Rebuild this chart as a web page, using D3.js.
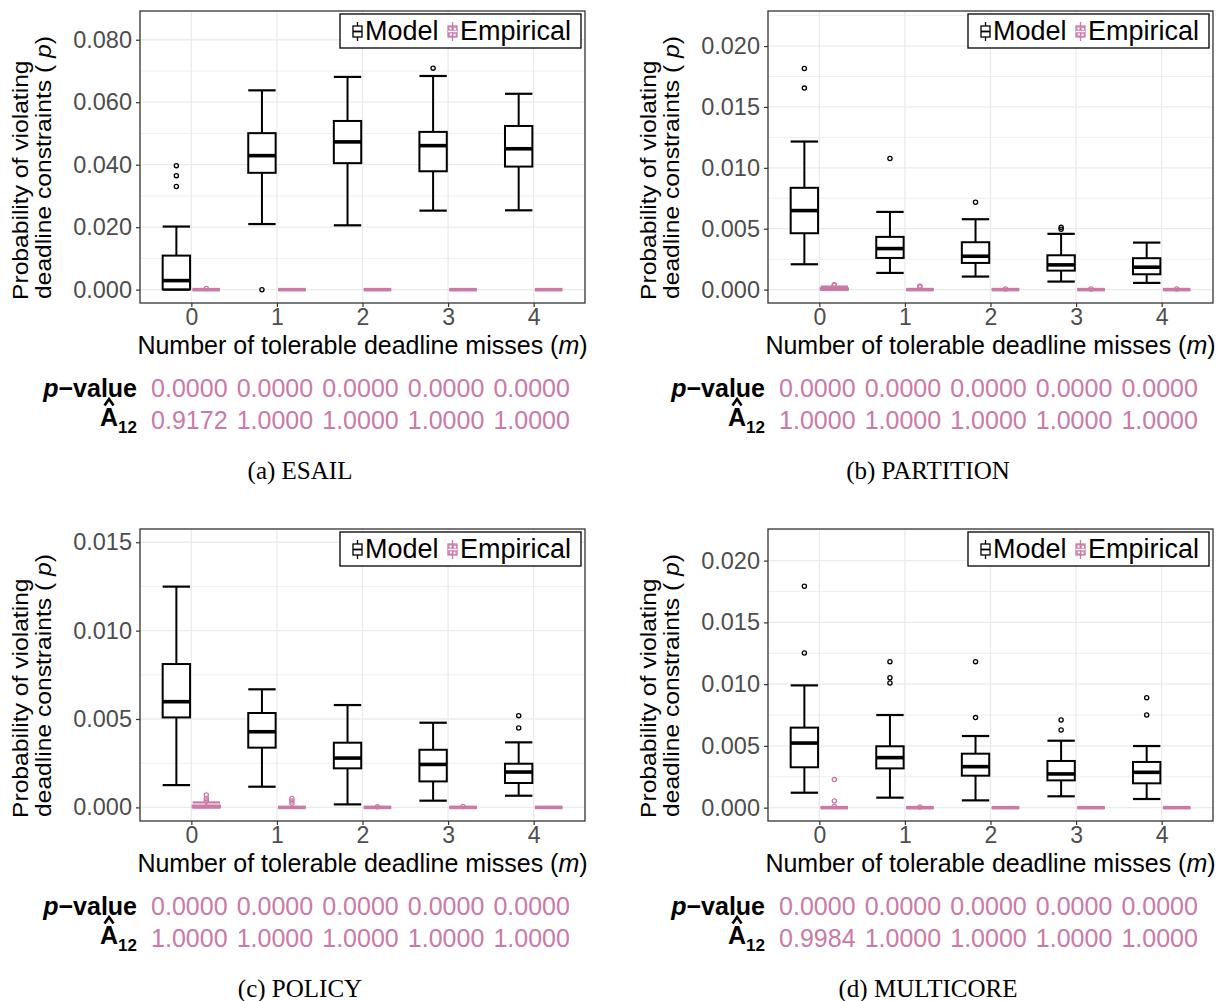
<!DOCTYPE html>
<html lang="en">
<head>
<meta charset="utf-8">
<script src="https://d3js.org/d3.v7.min.js"></script>
<style>
  body { margin: 0; background: #fff; }
</style>
</head>
<body>
<script>
// Categories on the x axis (number of tolerable deadline misses).
var categories = [0, 1, 2, 3, 4];

// Box summaries per category: [lower whisker, Q1, median, Q3, upper whisker]
var esailModel = [[0.0, 0.0001, 0.0029, 0.0109, 0.0202],
                  [0.0210, 0.0374, 0.0429, 0.0501, 0.0638],
                  [0.0206, 0.0405, 0.0473, 0.0540, 0.0681],
                  [0.0253, 0.0379, 0.0461, 0.0505, 0.0684],
                  [0.0254, 0.0394, 0.0451, 0.0524, 0.0627]];
var esailModelOut = [[0.0397, 0.0365, 0.0330], [0.0], [], [0.0709], []];
var esailEmp = [[0, 0, 0, 0, 0], [0, 0, 0, 0, 0], [0, 0, 0, 0, 0], [0, 0, 0, 0, 0], [0, 0, 0, 0, 0]];
var esailEmpOut = [[0.0004], [], [], [], []];
var esailTicks = [0, 0.02, 0.04, 0.06, 0.08];
var esailP = ["0.0000", "0.0000", "0.0000", "0.0000", "0.0000"];
var esailA12 = ["0.9172", "1.0000", "1.0000", "1.0000", "1.0000"];

var partitionModel = [[0.00208, 0.00463, 0.00649, 0.00836, 0.01216],
                      [0.00137, 0.00260, 0.00337, 0.00433, 0.00638],
                      [0.00107, 0.00219, 0.00274, 0.00389, 0.00578],
                      [0.00066, 0.00156, 0.00203, 0.00282, 0.00458],
                      [0.00055, 0.00126, 0.00184, 0.00258, 0.00386]];
var partitionModelOut = [[0.01816, 0.01655], [0.01077], [0.00718], [0.00512, 0.00496], []];
var partitionEmp = [[0, 0, 0.00005, 0.0001, 0.00025], [0, 0, 0, 0, 0], [0, 0, 0, 0, 0], [0, 0, 0, 0, 0], [0, 0, 0, 0, 0]];
var partitionEmpOut = [[0.0004, 0.00035], [0.0003, 0.0002], [0.00005], [0.00005], [0.00005]];
var partitionTicks = [0, 0.005, 0.010, 0.015, 0.020];
var partitionP = ["0.0000", "0.0000", "0.0000", "0.0000", "0.0000"];
var partitionA12 = ["1.0000", "1.0000", "1.0000", "1.0000", "1.0000"];

var policyModel = [[0.00126, 0.00509, 0.00598, 0.00811, 0.01249],
                   [0.00117, 0.00338, 0.00428, 0.00534, 0.00668],
                   [0.00017, 0.00221, 0.00279, 0.00366, 0.00579],
                   [0.00038, 0.00147, 0.00243, 0.00326, 0.00479],
                   [0.00066, 0.00138, 0.00200, 0.00247, 0.00368]];
var policyModelOut = [[], [], [], [], [0.00519, 0.00449]];
var policyEmp = [[0, 0, 0.00005, 0.0001, 0.00028], [0, 0, 0, 0, 0], [0, 0, 0, 0, 0], [0, 0, 0, 0, 0], [0, 0, 0, 0, 0]];
var policyEmpOut = [[0.0007, 0.00051, 0.00038], [0.00051, 0.00036, 0.00023], [0.00003], [0.00005], []];
var policyTicks = [0, 0.005, 0.010, 0.015];
var policyP = ["0.0000", "0.0000", "0.0000", "0.0000", "0.0000"];
var policyA12 = ["1.0000", "1.0000", "1.0000", "1.0000", "1.0000"];

var multicoreModel = [[0.00121, 0.00327, 0.00523, 0.00648, 0.0099],
                      [0.00081, 0.00318, 0.00405, 0.00497, 0.0075],
                      [0.00059, 0.00259, 0.00332, 0.00437, 0.0058],
                      [0.00092, 0.00221, 0.00273, 0.00378, 0.00542],
                      [0.00070, 0.00197, 0.00286, 0.00370, 0.00499]];
var multicoreModelOut = [[0.01792, 0.01252], [0.01182, 0.01052, 0.01009], [0.01182, 0.00729], [0.0071, 0.00629], [0.0089, 0.0075]];
var multicoreEmp = [[0, 0, 0, 0, 0], [0, 0, 0, 0, 0], [0, 0, 0, 0, 0], [0, 0, 0, 0, 0], [0, 0, 0, 0, 0]];
var multicoreEmpOut = [[0.00227, 0.00054, 0.0001], [0.00005], [], [], []];
var multicoreTicks = [0, 0.005, 0.010, 0.015, 0.020];
var multicoreP = ["0.0000", "0.0000", "0.0000", "0.0000", "0.0000"];
var multicoreA12 = ["0.9984", "1.0000", "1.0000", "1.0000", "1.0000"];

var pink = "#CC79A7";
var sans = "'Liberation Sans', Arial, sans-serif";
var serif = "'Liberation Serif', 'Times New Roman', serif";

// Panels: offsets and y domains.
var panels = [
  {dx: 0,   dy: 0,   caption: "(a) ESAIL",     yDom: [-0.00427, 0.0892],  model: esailModel, modelOut: esailModelOut, emp: esailEmp, empOut: esailEmpOut, ticks: esailTicks, p: esailP, a12: esailA12},
  {dx: 628, dy: 0,   caption: "(b) PARTITION", yDom: [-0.0011, 0.02288],  model: partitionModel, modelOut: partitionModelOut, emp: partitionEmp, empOut: partitionEmpOut, ticks: partitionTicks, p: partitionP, a12: partitionA12},
  {dx: 0,   dy: 518, caption: "(c) POLICY",    yDom: [-0.00077, 0.01575], model: policyModel, modelOut: policyModelOut, emp: policyEmp, empOut: policyEmpOut, ticks: policyTicks, p: policyP, a12: policyA12},
  {dx: 628, dy: 518, caption: "(d) MULTICORE", yDom: [-0.00108, 0.02256], model: multicoreModel, modelOut: multicoreModelOut, emp: multicoreEmp, empOut: multicoreEmpOut, ticks: multicoreTicks, p: multicoreP, a12: multicoreA12}
];

var svg = d3.select("body").append("svg")
  .attr("width", 1220).attr("height", 1001)
  .style("background", "#fff")
  .style("font-family", sans);

// plot area inside one panel
var px0 = 140, px1 = 585, py0 = 11, py1 = 303;

panels.forEach(function(pn) {
  var g = svg.append("g").attr("transform", "translate(" + pn.dx + "," + pn.dy + ")");

  var x = d3.scaleLinear().domain([-0.6, 4.6]).range([px0, px1]);
  var y = d3.scaleLinear().domain(pn.yDom).range([py1, py0]);
  var step = pn.ticks[1] - pn.ticks[0];

  // minor grid lines (half steps)
  var minor = [];
  for (var v = Math.ceil(pn.yDom[0] / (step / 2)) * step / 2; v <= pn.yDom[1]; v += step / 2) {
    var isMajor = Math.abs(v / step - Math.round(v / step)) < 1e-6;
    if (!isMajor) minor.push(v);
  }
  g.selectAll(".minor").data(minor).enter().append("line")
    .attr("x1", px0).attr("x2", px1)
    .attr("y1", function(d) { return y(d); }).attr("y2", function(d) { return y(d); })
    .attr("stroke", "#EBEBEB").attr("stroke-width", 0.8);
  g.selectAll(".hmajor").data(pn.ticks).enter().append("line")
    .attr("x1", px0).attr("x2", px1)
    .attr("y1", function(d) { return y(d); }).attr("y2", function(d) { return y(d); })
    .attr("stroke", "#EBEBEB").attr("stroke-width", 1.3);
  g.selectAll(".vmajor").data(categories).enter().append("line")
    .attr("y1", py0).attr("y2", py1)
    .attr("x1", function(d) { return x(d); }).attr("x2", function(d) { return x(d); })
    .attr("stroke", "#EBEBEB").attr("stroke-width", 1.3);

  // boxplots
  var off = 0.175, bw = 0.32;
  function drawBoxes(stats, outs, sign, color) {
    stats.forEach(function(s, i) {
      var cx = x(categories[i] + sign * off);
      var l = x(categories[i] + sign * off - bw / 2), r = x(categories[i] + sign * off + bw / 2);
      // whiskers
      g.append("line").attr("x1", cx).attr("x2", cx).attr("y1", y(s[0])).attr("y2", y(s[1]))
        .attr("stroke", color).attr("stroke-width", 2);
      g.append("line").attr("x1", cx).attr("x2", cx).attr("y1", y(s[3])).attr("y2", y(s[4]))
        .attr("stroke", color).attr("stroke-width", 2);
      g.append("line").attr("x1", l).attr("x2", r).attr("y1", y(s[0])).attr("y2", y(s[0]))
        .attr("stroke", color).attr("stroke-width", 2.2);
      g.append("line").attr("x1", l).attr("x2", r).attr("y1", y(s[4])).attr("y2", y(s[4]))
        .attr("stroke", color).attr("stroke-width", 2.2);
      // box
      g.append("rect").attr("x", l).attr("width", r - l)
        .attr("y", y(s[3])).attr("height", Math.max(0, y(s[1]) - y(s[3])))
        .attr("fill", "#fff").attr("stroke", color).attr("stroke-width", 2);
      // median
      g.append("line").attr("x1", l).attr("x2", r).attr("y1", y(s[2])).attr("y2", y(s[2]))
        .attr("stroke", color).attr("stroke-width", 3.6);
      // outliers
      g.selectAll(null).data(outs[i]).enter().append("circle")
        .attr("cx", cx).attr("cy", function(d) { return y(d); }).attr("r", 2.1)
        .attr("fill", "none").attr("stroke", color).attr("stroke-width", 1.3);
    });
  }
  drawBoxes(pn.model, pn.modelOut, -1, "#000");
  drawBoxes(pn.emp, pn.empOut, 1, pink);

  // panel border
  g.append("rect").attr("x", px0).attr("y", py0).attr("width", px1 - px0).attr("height", py1 - py0)
    .attr("fill", "none").attr("stroke", "#333").attr("stroke-width", 1.3);

  // y axis
  var yAxis = g.append("g").attr("transform", "translate(" + px0 + ",0)")
    .call(d3.axisLeft(y).tickValues(pn.ticks).tickFormat(d3.format(".3f")).tickSize(4).tickPadding(4));
  yAxis.select(".domain").remove();
  yAxis.selectAll("line").attr("stroke", "#333").attr("stroke-width", 1.2);
  yAxis.selectAll("text").attr("fill", "#4D4D4D").style("font-size", "23.5px")
    .style("font-family", sans);

  // x axis
  var xAxis = g.append("g").attr("transform", "translate(0," + py1 + ")")
    .call(d3.axisBottom(x).tickValues(categories).tickFormat(d3.format("d")).tickSize(4).tickPadding(2));
  xAxis.select(".domain").remove();
  xAxis.selectAll("line").attr("stroke", "#333").attr("stroke-width", 1.2);
  xAxis.selectAll("text").attr("fill", "#4D4D4D").style("font-size", "23px")
    .style("font-family", sans);

  // axis titles
  var xt = g.append("text").attr("x", (px0 + px1) / 2).attr("y", 354)
    .attr("text-anchor", "middle").style("font-size", "25px").attr("fill", "#000");
  xt.append("tspan").text("Number of tolerable deadline misses (");
  xt.append("tspan").style("font-style", "italic").text("m");
  xt.append("tspan").text(")");

  // y title: slightly stretched along its length, as in the source figure
  g.append("text").attr("transform", "translate(28,300) rotate(-90) scale(1.12,1)")
    .style("font-size", "22px").attr("fill", "#000").text("Probability of violating");
  var yt = g.append("text").attr("transform", "translate(51,299) rotate(-90) scale(1.12,1)")
    .style("font-size", "22px").attr("fill", "#000");
  yt.append("tspan").text("deadline constraints ( ");
  yt.append("tspan").style("font-style", "italic").text("p");
  yt.append("tspan").text(")");

  // legend
  var lg = g.append("g");
  lg.append("rect").attr("x", 340).attr("y", 14).attr("width", 241).attr("height", 34)
    .attr("fill", "#fff").attr("stroke", "#000").attr("stroke-width", 1.3);
  // model key
  lg.append("line").attr("x1", 357.5).attr("x2", 357.5).attr("y1", 22).attr("y2", 41).attr("stroke", "#000").attr("stroke-width", 1.3);
  lg.append("rect").attr("x", 353).attr("y", 26).attr("width", 9).attr("height", 11)
    .attr("fill", "#fff").attr("stroke", "#000").attr("stroke-width", 1.3);
  lg.append("line").attr("x1", 353).attr("x2", 362).attr("y1", 31.5).attr("y2", 31.5).attr("stroke", "#000").attr("stroke-width", 1.8);
  lg.append("text").attr("x", 365).attr("y", 40).style("font-size", "27px").attr("fill", "#000").text("Model");
  // empirical key
  lg.append("line").attr("x1", 452.5).attr("x2", 452.5).attr("y1", 22).attr("y2", 41).attr("stroke", pink).attr("stroke-width", 1.3);
  lg.append("rect").attr("x", 448).attr("y", 26).attr("width", 9).attr("height", 11)
    .attr("fill", pink).attr("fill-opacity", 0.75).attr("stroke", pink).attr("stroke-width", 1.3);
  [[450.5, 28.5], [455, 29], [451, 34.5], [454.5, 35]].forEach(function(p) {
    lg.append("circle").attr("cx", p[0]).attr("cy", p[1]).attr("r", 1.1).attr("fill", "#fff");
  });
  lg.append("line").attr("x1", 448).attr("x2", 457).attr("y1", 31.5).attr("y2", 31.5).attr("stroke", "#fff").attr("stroke-width", 1.2);
  lg.append("text").attr("x", 460).attr("y", 40).style("font-size", "27px").attr("fill", "#000").text("Empirical");

  // statistics rows under the plot
  var pv = g.append("text").attr("x", 137).attr("y", 397).attr("text-anchor", "end")
    .style("font-size", "25px").style("font-weight", "bold").attr("fill", "#000");
  pv.append("tspan").style("font-style", "italic").text("p");
  pv.append("tspan").text("\u2212value");

  var sub = g.append("text").attr("x", 137).attr("y", 433).attr("text-anchor", "end")
    .style("font-size", "17px").style("font-weight", "bold").attr("fill", "#000").text("12");
  var subW = sub.node().getComputedTextLength();
  var aT = g.append("text").attr("x", 137 - subW).attr("y", 426).attr("text-anchor", "end")
    .style("font-size", "25px").style("font-weight", "bold").attr("fill", "#000").text("A");
  var aW = aT.node().getComputedTextLength();
  // hat over the A
  var hx = 137 - subW - aW / 2;
  g.append("path").attr("d", "M" + (hx - 4.5) + ",405.5 L" + hx + ",399 L" + (hx + 4.5) + ",405.5")
    .attr("fill", "none").attr("stroke", "#000").attr("stroke-width", 2.6);

  g.selectAll(".pval").data(pn.p).enter().append("text")
    .attr("x", function(d, i) { return x(categories[i]) - 2; }).attr("y", 397)
    .attr("text-anchor", "middle").style("font-size", "25px").attr("fill", pink).text(function(d) { return d; });
  g.selectAll(".a12").data(pn.a12).enter().append("text")
    .attr("x", function(d, i) { return x(categories[i]) - 2; }).attr("y", 429)
    .attr("text-anchor", "middle").style("font-size", "25px").attr("fill", pink).text(function(d) { return d; });

  // caption
  g.append("text").attr("x", 300).attr("y", 479).attr("text-anchor", "middle")
    .style("font-family", serif).style("font-size", "25px")
    .attr("fill", "#000").text(pn.caption);
});
</script>
</body>
</html>
